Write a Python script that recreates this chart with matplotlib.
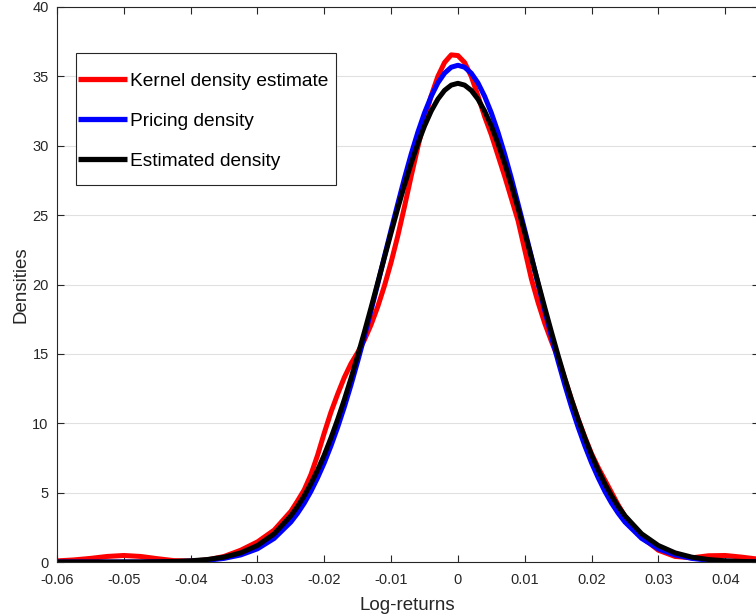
import matplotlib
matplotlib.use("Agg")
import matplotlib.pyplot as plt
from matplotlib.patches import Rectangle

plt.rcParams['font.family'] = ['Liberation Sans', 'DejaVu Sans']

# Log-return grid (x values) at which densities were read
x_left = [-0.06, -0.0575, -0.055, -0.0525, -0.05, -0.0475, -0.045, -0.0425,
          -0.04, -0.0375, -0.035, -0.0325, -0.03, -0.0275]
x_center = [-0.025, -0.024, -0.023, -0.022, -0.021, -0.020, -0.019, -0.018,
            -0.017, -0.016, -0.015, -0.014, -0.013, -0.012, -0.011, -0.010,
            -0.009, -0.008, -0.007, -0.006, -0.005, -0.004, -0.003, -0.002,
            -0.001, 0.0, 0.001, 0.002, 0.003, 0.004, 0.005, 0.006, 0.007,
            0.008, 0.009, 0.010, 0.011, 0.012, 0.013, 0.014, 0.015, 0.016,
            0.017, 0.018, 0.019, 0.020, 0.021, 0.022, 0.023, 0.024, 0.025]
x_right = [0.0275, 0.03, 0.0325, 0.035, 0.0375, 0.04, 0.0425, 0.045]

kernel_density = (
    [0.08, 0.15, 0.26, 0.40, 0.47, 0.40, 0.24, 0.10, 0.07, 0.15, 0.40, 0.85, 1.45, 2.30]
    + [3.65, 4.4, 5.2, 6.3, 7.7, 9.3, 10.8, 12.1, 13.3, 14.3, 15.1, 16.0, 17.1, 18.4,
       19.9, 21.6, 23.5, 25.6, 27.8, 29.9, 31.9, 33.6, 35.0, 36.0, 36.55, 36.5, 36.0,
       35.0, 33.6, 32.1, 30.8, 29.3, 27.8, 26.2, 24.6, 22.5, 20.4, 18.7, 17.2, 15.9,
       14.7, 13.2, 11.7, 10.3, 9.0, 7.8, 6.8, 5.9, 5.0, 4.1, 3.3]
    + [1.80, 0.85, 0.40, 0.30, 0.45, 0.47, 0.35, 0.20]
)

pricing_density = (
    [0.0, 0.0, 0.0, 0.0, 0.0, 0.001, 0.01, 0.024, 0.057, 0.12, 0.26, 0.51, 0.95, 1.70]
    + [2.88, 3.51, 4.24, 5.09, 6.07, 7.15, 8.37, 9.71, 11.17, 12.76, 14.46, 16.24,
       18.12, 20.04, 22.01, 23.93, 25.81, 27.66, 29.39, 30.97, 32.37, 33.56, 34.53,
       35.23, 35.66, 35.80, 35.66, 35.23, 34.53, 33.56, 32.37, 30.97, 29.39, 27.66,
       25.81, 23.93, 22.01, 20.04, 18.12, 16.24, 14.46, 12.76, 11.17, 9.71, 8.37,
       7.15, 6.07, 5.09, 4.24, 3.51, 2.88]
    + [1.70, 0.95, 0.51, 0.26, 0.12, 0.057, 0.024, 0.01]
)

estimated_density = (
    [0.0, 0.0, 0.0, 0.001, 0.003, 0.007, 0.018, 0.04, 0.086, 0.18, 0.35, 0.66, 1.19, 2.03]
    + [3.33, 4.00, 4.77, 5.64, 6.62, 7.72, 8.94, 10.27, 11.70, 13.24, 14.87, 16.57,
       18.33, 20.13, 21.94, 23.73, 25.49, 27.16, 28.73, 30.15, 31.42, 32.50, 33.36,
       33.99, 34.37, 34.50, 34.37, 33.99, 33.36, 32.50, 31.42, 30.15, 28.73, 27.16,
       25.49, 23.73, 21.94, 20.13, 18.33, 16.57, 14.87, 13.24, 11.70, 10.27, 8.94,
       7.72, 6.62, 5.64, 4.77, 4.00, 3.33]
    + [2.03, 1.19, 0.66, 0.35, 0.18, 0.086, 0.04, 0.018]
)

x_vals = x_left + x_center + x_right

labels = ['Kernel density estimate', 'Pricing density', 'Estimated density']
colors = ['#ff0000', '#0000ff', '#000000']

x_ticks = [-0.06, -0.05, -0.04, -0.03, -0.02, -0.01, 0, 0.01, 0.02, 0.03, 0.04]
x_tick_labels = ['-0.06', '-0.05', '-0.04', '-0.03', '-0.02', '-0.01', '0',
                 '0.01', '0.02', '0.03', '0.04']
y_ticks = [0, 5, 10, 15, 20, 25, 30, 35, 40]

W, H = 756, 616
fig = plt.figure(figsize=(W / 100, H / 100), dpi=100)
ax = fig.add_axes([57 / W, 54 / H, (758.6 - 57) / W, (562 - 7) / H])

series = [kernel_density, pricing_density, estimated_density]
handles = []
for ys, lab, c in zip(series, labels, colors):
    h, = ax.plot(x_vals, ys, color=c, lw=3.6, label=lab,
                 solid_capstyle='round', solid_joinstyle='round')
    handles.append(h)

ax.set_xlim(-0.06, 0.045)
ax.set_ylim(0, 40)
ax.set_xticks(x_ticks)
ax.set_xticklabels(x_tick_labels)
ax.set_yticks(y_ticks)

spine_c = '#262626'
for s in ax.spines.values():
    s.set_color(spine_c)
    s.set_linewidth(0.8)

ax.tick_params(axis='both', direction='in', length=5, width=0.8, colors=spine_c,
               labelsize=10.5, top=True, right=True, labelcolor='#262626')
ax.tick_params(axis='x', pad=8)
ax.tick_params(axis='y', pad=6)

ax.yaxis.grid(True, color='#e0e0e0', lw=0.8)
ax.set_axisbelow(True)

ax.set_xlabel('Log-returns', fontsize=13.5, color='#262626', labelpad=7)
ax.set_ylabel('Densities', fontsize=13.5, color='#262626', labelpad=2)

# legend frame (white box with dark edge)
frame = Rectangle((76 / W, (H - 185) / H), 260 / W, 132 / H,
                  transform=fig.transFigure, facecolor='white',
                  edgecolor='#262626', lw=0.8, zorder=4, clip_on=False)
ax.add_patch(frame)

leg = ax.legend(handles=handles, loc='center left',
                bbox_to_anchor=(78 / W, (H - 121) / H),
                bbox_transform=fig.transFigure, fontsize=13.8,
                frameon=False, handlelength=2.55, labelspacing=1.18,
                handletextpad=0.18, borderpad=0.0, borderaxespad=0.0)
leg.set_zorder(5)
for line in leg.get_lines():
    line.set_linewidth(3.8)
    line.set_solid_capstyle('butt')

fig.savefig('out.png', dpi=100)
